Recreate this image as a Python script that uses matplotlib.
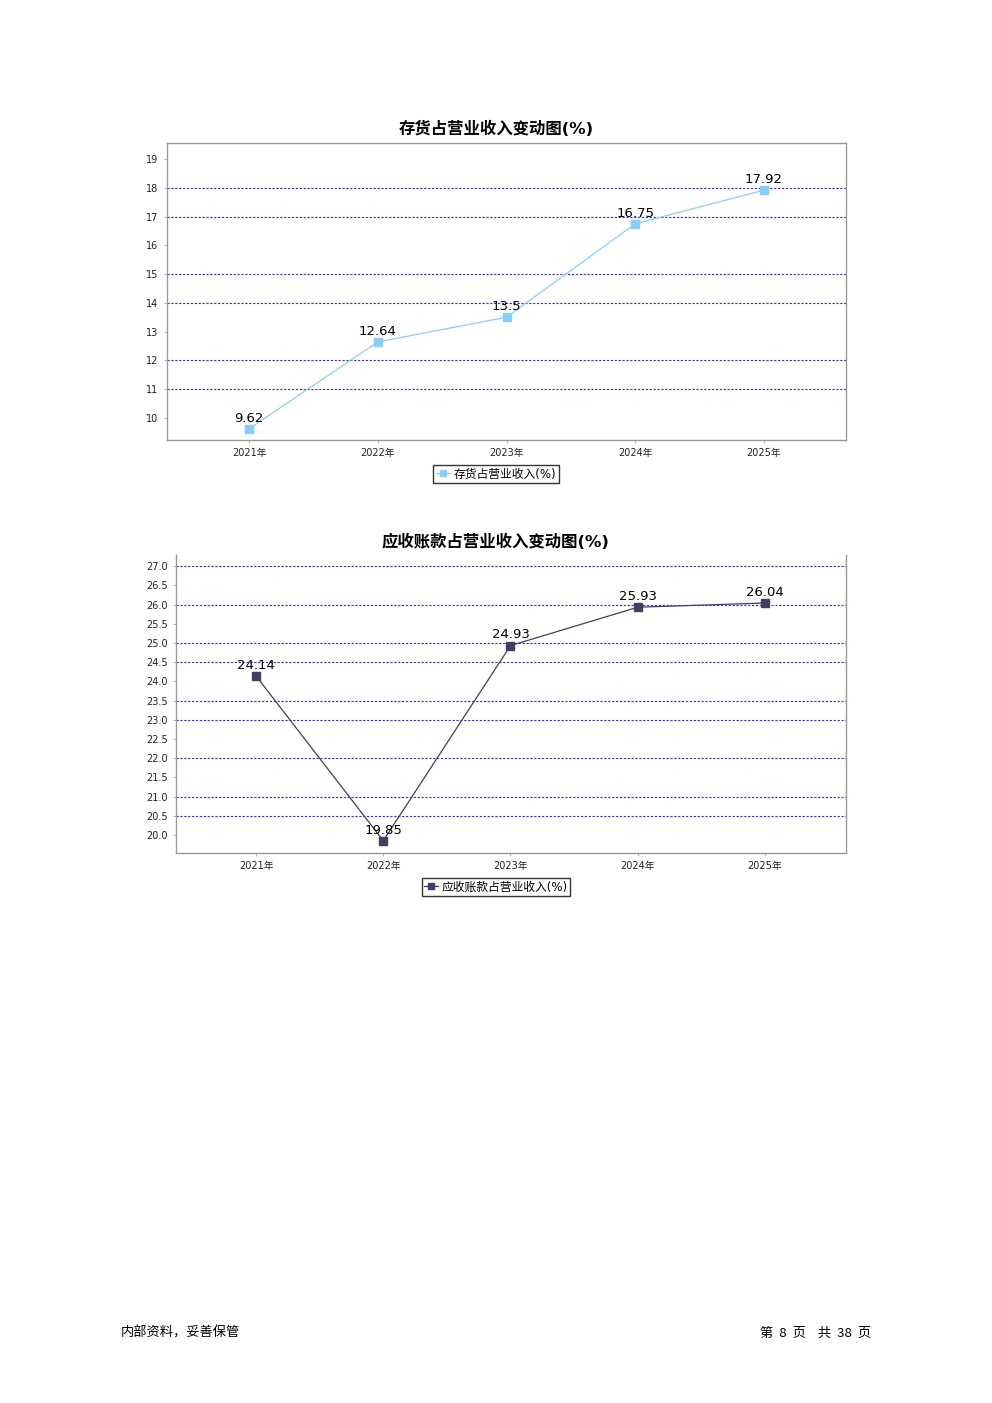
import matplotlib
matplotlib.use("Agg")
import matplotlib.pyplot as plt
from matplotlib.lines import Line2D

plt.rcParams['font.family'] = ['DejaVu Sans', 'Noto Sans CJK SC']

years = ["2021年", "2022年", "2023年", "2024年", "2025年"]
inventory_ratio = [9.62, 12.64, 13.5, 16.75, 17.92]
receivable_ratio = [24.14, 19.85, 24.93, 25.93, 26.04]

inv_title = "存货占营业收入变动图(%)"
inv_legend = "存货占营业收入(%)"
rec_title = "应收账款占营业收入变动图(%)"
rec_legend = "应收账款占营业收入(%)"

inv_ticks = [10, 11, 12, 13, 14, 15, 16, 17, 18, 19]
inv_grid = [11, 12, 14, 15, 17, 18]
rec_ticks = [20.0, 20.5, 21.0, 21.5, 22.0, 22.5, 23.0, 23.5, 24.0, 24.5, 25.0, 25.5, 26.0, 26.5, 27.0]
rec_grid = [20.5, 21.0, 22.0, 23.0, 23.5, 24.5, 25.0, 26.0, 27.0]

footer_left = "内部资料，妥善保管"
footer_right = "第  8  页    共  38  页"

W, H = 992, 1403
fig = plt.figure(figsize=(W / 100, H / 100), dpi=100)


def px_axes(l, t, r, b):
    return fig.add_axes([l / W, 1 - b / H, (r - l) / W, (b - t) / H])


def draw(ax, values, ticks, grid_vals, ylim, xlim, color, fmt, spines_all):
    x = list(range(len(values)))
    ax.plot(x, values, color=color, lw=0.9, marker='s', markersize=5.5,
            markerfacecolor=color, markeredgecolor=color, zorder=3)
    for xi, v in zip(x, values):
        ax.annotate(f"{v:g}", (xi, v), xytext=(0, 3), textcoords='offset points',
                    ha='center', va='bottom', fontsize=9.5, color='black', zorder=4)
    for g in grid_vals:
        ax.axhline(g, color='#2a2aff', lw=0.8, ls=(0, (2, 1.5)), zorder=1)
    ax.set_xlim(*xlim)
    ax.set_ylim(*ylim)
    ax.set_xticks(x)
    ax.set_xticklabels(years, fontsize=7, color='#222222')
    ax.set_yticks(ticks)
    ax.set_yticklabels([fmt.format(t) for t in ticks], fontsize=7, color='#222222')
    ax.tick_params(axis='both', length=2, width=0.6, color='#aaaaaa', pad=4)
    for s in ['left', 'bottom', 'right', 'top']:
        ax.spines[s].set_color('#999999')
        ax.spines[s].set_linewidth(1.0)
    if not spines_all:
        ax.spines['top'].set_visible(False)


ax1 = px_axes(167, 143, 846, 440)
draw(ax1, inventory_ratio, inv_ticks, inv_grid, (9.23, 19.56), (-0.637, 4.637),
     '#87cefa', "{:d}", True)
fig.text(0.5, 1 - 129 / H, inv_title, ha='center', va='center', fontsize=11.8, fontweight='bold')
h1 = Line2D([], [], color='#87cefa', lw=0.9, marker='s', markersize=5)
fig.legend([h1], [inv_legend], loc='center', bbox_to_anchor=(0.5, 1 - 474 / H),
           fontsize=8.5, frameon=True, fancybox=False, edgecolor='black',
           handlelength=1.2, handletextpad=0.3, borderpad=0.2, borderaxespad=0)

ax2 = px_axes(176, 555, 846, 853)
draw(ax2, receivable_ratio, rec_ticks, rec_grid, (19.53, 27.29), (-0.629, 4.637),
     '#3f3f62', "{:.1f}", False)
fig.text(0.5, 1 - 542 / H, rec_title, ha='center', va='center', fontsize=11.8, fontweight='bold')
h2 = Line2D([], [], color='#3f3f62', lw=0.9, marker='s', markersize=5)
fig.legend([h2], [rec_legend], loc='center', bbox_to_anchor=(0.5, 1 - 887 / H),
           fontsize=8.5, frameon=True, fancybox=False, edgecolor='black',
           handlelength=1.2, handletextpad=0.3, borderpad=0.2, borderaxespad=0)

fig.text(121 / W, 1 - 1333 / H, footer_left, ha='left', va='center', fontsize=9.5,
         family=['Noto Sans CJK SC'])
fig.text(871 / W, 1 - 1333 / H, footer_right, ha='right', va='center', fontsize=9.5,
         family=['Noto Sans CJK SC'])

fig.savefig("out.png", dpi=100)
